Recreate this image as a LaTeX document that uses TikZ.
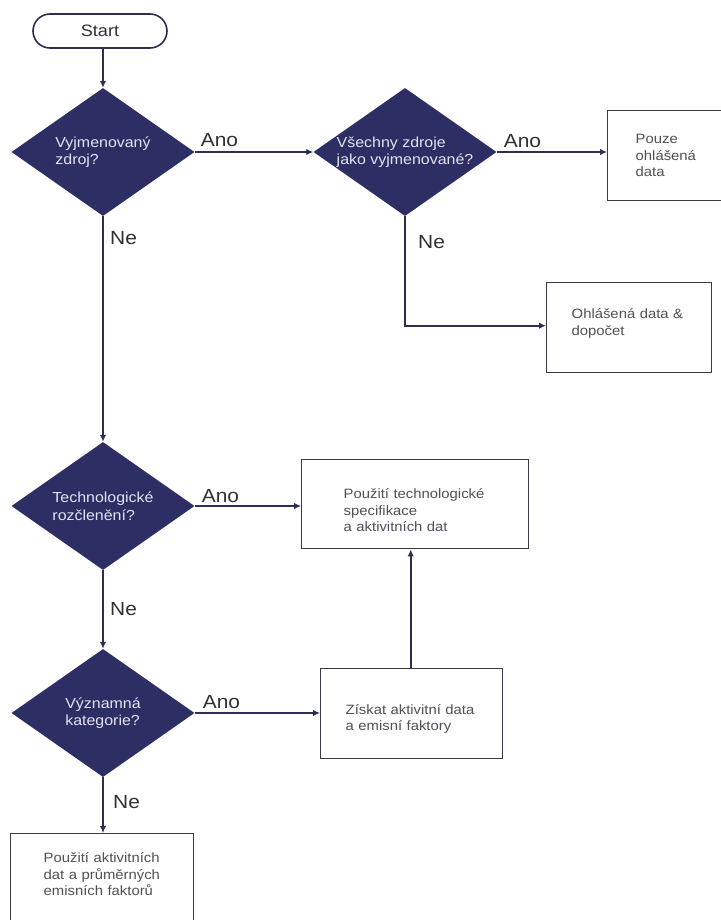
\documentclass[tikz,border=0pt]{standalone}
\usepackage{fontspec}
\setmainfont{Liberation Sans}[FakeStretch=1.1]
\usetikzlibrary{shapes.geometric, arrows.meta}

\definecolor{navy}{RGB}{45,46,100}
\definecolor{flowline}{RGB}{46,47,80}
\definecolor{boxline}{RGB}{58,58,68}
\definecolor{boxtext}{RGB}{80,80,88}
\definecolor{lbltext}{RGB}{48,48,54}
\definecolor{dectext}{RGB}{226,227,240}

\begin{document}
\begin{tikzpicture}[x=1pt, y=-1pt,
    decision/.style={diamond, aspect=1.43, fill=navy, text=dectext, inner sep=0pt,
      minimum width=183pt, minimum height=128pt, align=left,
      font=\fontsize{14.5}{17.5}\selectfont},
    outcome/.style={rectangle, draw=boxline, line width=1.4pt, text=boxtext,
      anchor=north west, align=left, minimum height=90pt,
      font=\fontsize{13.5}{16.5}\selectfont},
    answer/.style={anchor=base west, inner sep=0pt, text=lbltext,
      font=\fontsize{19}{22}\selectfont},
    flow/.style={draw=flowline, line width=1.8pt,
      -{Latex[length=7pt, width=6.5pt]}}]
  % page frame
  \useasboundingbox [fill=white] (0, 0) rectangle (720, 920);
  % start and decisions
  \node [draw=flowline, line width=1.6pt, rounded corners=17pt,
    minimum width=134pt, minimum height=34pt, text=lbltext,
    font=\fontsize{16.5}{19}\selectfont] (start) at (100, 31) {Start};
  \node [decision] (listed) at (103, 152) {Vyjmenovaný\\zdroj?};
  \node [decision] (alllisted) at (405, 152) {Všechny zdroje\\jako vyjmenované?};
  \node [decision] (techsplit) at (103, 506) {Technologické\\rozčlenění?};
  \node [decision] (keycat) at (103, 713) {Významná\\kategorie?};
  % outcome boxes
  \node [outcome, minimum width=130pt, inner xsep=28pt, text width=74pt]
    (reported) at (607, 110) {Pouze\\ohlášená\\data};
  \node [outcome, minimum width=165pt, inner xsep=25pt, text width=115pt,
    text depth=28pt]
    (topup) at (546, 282) {Ohlášená data \&\\dopočet};
  \node [outcome, minimum width=227pt, minimum height=89pt, inner xsep=42pt,
    text width=143pt, text height=22pt]
    (techspec) at (301, 459) {Použití technologické\\specifikace\\a aktivitních dat};
  \node [outcome, minimum width=182pt, inner xsep=25pt, text width=132pt,
    text height=20pt]
    (getdata) at (320, 668) {Získat aktivitní data\\a emisní faktory};
  \node [outcome, minimum width=183pt, minimum height=0pt, inner xsep=33pt,
    inner ysep=19pt, text width=117pt, text depth=72pt]
    (average) at (10, 833) {Použití aktivitních\\dat a průměrných\\emisních faktorů};
  % connectors
  \draw [flow] (start.south -| listed.north) -- (listed.north);
  \draw [flow] (listed.east) -- (alllisted.west);
  \draw [flow] (alllisted.east) -- (alllisted.east -| reported.west);
  \draw [flow] (alllisted.south) |- ([yshift=2pt]topup.west);
  \draw [flow] (listed.south) -- (techsplit.north);
  \draw [flow] (techsplit.east) -- (techsplit.east -| techspec.west);
  \draw [flow] (techsplit.south) -- (keycat.north);
  \draw [flow] (keycat.east) -- (keycat.east -| getdata.west);
  \draw [flow] ([xshift=-1pt]getdata.north) -- ([xshift=-1pt]getdata.north |- techspec.south);
  \draw [flow] (keycat.south) -- (keycat.south |- average.north);
  % answer labels
  \node [answer] (listedyes) at ([xshift=6pt, yshift=5pt]listed.east) {Ano};
  \node [answer] (listedno) at ([xshift=7pt, yshift=-28pt]listed.south) {Ne};
  \node [answer] (allyes) at ([xshift=7pt, yshift=4pt]alllisted.east) {Ano};
  \node [answer] (allno) at ([xshift=13pt, yshift=-32pt]alllisted.south) {Ne};
  \node [answer] (techyes) at ([xshift=7pt, yshift=4pt]techsplit.east) {Ano};
  \node [answer] (techno) at ([xshift=7pt, yshift=-45pt]techsplit.south) {Ne};
  \node [answer] (keyyes) at ([xshift=8pt, yshift=5pt]keycat.east) {Ano};
  \node [answer] (keyno) at ([xshift=10pt, yshift=-31pt]keycat.south) {Ne};
\end{tikzpicture}
\end{document}
